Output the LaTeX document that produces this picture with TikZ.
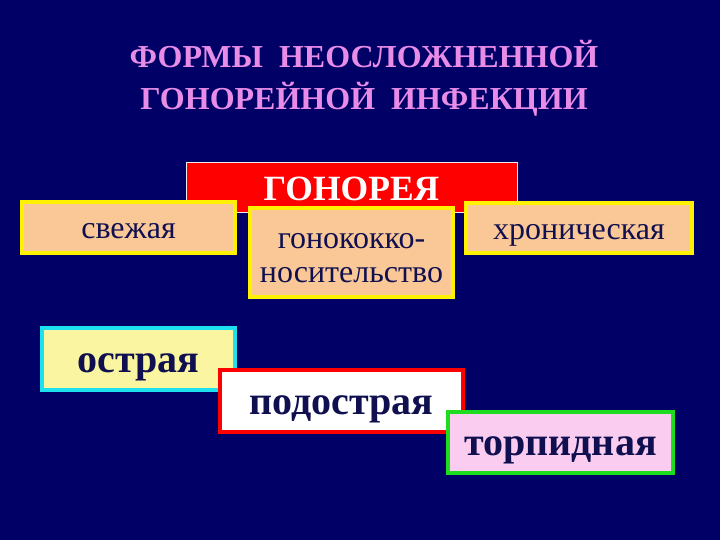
\documentclass[tikz,border=0pt]{standalone}
\usepackage{fontspec}
\setmainfont{Liberation Serif}
\definecolor{bgnavy}{RGB}{0,0,102}
\definecolor{inknavy}{RGB}{16,16,80}
\definecolor{peach}{RGB}{250,200,150}
\definecolor{paleyel}{RGB}{250,245,160}
\definecolor{palepink}{RGB}{250,205,240}
\definecolor{titlepink}{RGB}{232,140,232}
\definecolor{skyedge}{RGB}{30,225,240}
\definecolor{grnedge}{RGB}{30,220,30}
\begin{document}
\begin{tikzpicture}[x=1pt, y=-1pt,
    box/.style={draw=yellow, fill=peach, line width=3.5pt, text=inknavy,
      inner sep=0pt, align=center, text height=23pt, text depth=0pt,
      font=\fontsize{32}{34}\selectfont},
    bigbox/.style={line width=4pt, text=inknavy, inner sep=0pt,
      text height=26.5pt, text depth=0pt,
      font=\fontsize{40}{44}\selectfont\bfseries}]
  \fill[bgnavy] (0,0) rectangle (720,540);
  \useasboundingbox (0,0) rectangle (720,540);
  % title
  \node[text=titlepink, align=center, font=\fontsize{32}{42}\selectfont\bfseries]
    (title) at (364,78) {ФОРМЫ\ \ НЕОСЛОЖНЕННОЙ\\ГОНОРЕЙНОЙ\ \ ИНФЕКЦИИ};
  % main box
  \node[draw=white!85!gray, fill=red, line width=0.8pt, minimum width=331,
    minimum height=50, text=white, text height=26.5pt, text depth=0pt,
    inner sep=0pt, font=\fontsize{35.5}{38}\selectfont\bfseries]
    (gon) at (351.5,187) {ГОНОРЕЯ};
  % forms
  \node[box, minimum width=213, minimum height=51] (fresh) at (128.5,227.5) {свежая};
  \node[box, minimum width=203, minimum height=89, text height=60pt]
    (carrier) at (351.5,252.5) {гонококко-\\носительство};
  \node[box, minimum width=226, minimum height=50] (chronic) at (579,228) {хроническая};
  \node[bigbox, draw=skyedge, fill=paleyel, minimum width=193, minimum height=62]
    (acute) at (138.5,359) {острая};
  \node[bigbox, draw=red, fill=white, minimum width=243, minimum height=62]
    (subacute) at (341.5,401) {подострая};
  \node[bigbox, draw=grnedge, fill=palepink, minimum width=225, minimum height=61]
    (torpid) at (560.5,442.5) {торпидная};
\end{tikzpicture}
\end{document}
